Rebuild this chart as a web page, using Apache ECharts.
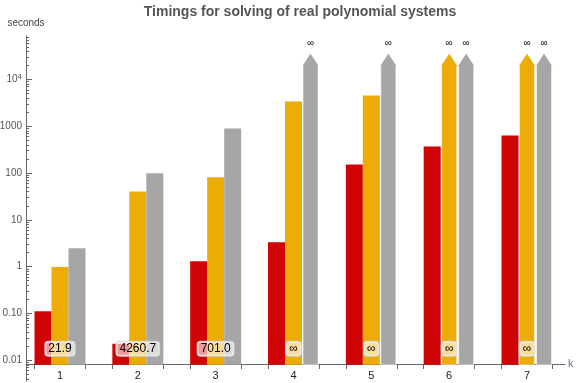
<!DOCTYPE html>
<html>
<head>
<meta charset="utf-8">
<script src="https://cdn.jsdelivr.net/npm/echarts@6/dist/echarts.min.js"></script>
<style>html,body{margin:0;padding:0;background:#fff}#c{width:576px;height:383px}</style>
</head>
<body>
<div id="c"></div>
<script>
// ---- data ----
const categories = [1, 2, 3, 4, 5, 6, 7];
const seriesRed    = [0.112, 0.0225, 1.31, 3.33, 153, 372, 638];
const seriesOrange = [0.98, 40.6, 81, 3400, 4570, Infinity, Infinity];
const seriesGray   = [2.46, 98.6, 900, Infinity, Infinity, Infinity, Infinity];
const boxLabels    = ['21.9', '4260.7', '701.0', '∞', '∞', '∞', '∞'];
const yTickValues  = [0.01, 0.1, 1, 10, 100, 1000, 10000];
const yTickLabels  = ['0.01', '0.10', '1', '10', '100', '1000', '10{sup|4}'];
const xTickLabels  = ['1', '2', '3', '4', '5', '6', '7'];

// ---- drawing constants ----
const BASE = 0.008;       // where the horizontal axis crosses
const ARROW_TIP = 36500;  // drawing height for infinite values
const LABEL_Y = 0.0175;   // vertical placement of boxed labels
const FONT = 'Liberation Sans, Arial, sans-serif';

const minorTicks = [];
for (let e = -3; e <= 4; e++) {
  for (let m = 2; m <= 9; m++) {
    const v = m * Math.pow(10, e);
    if (v > 0.0036 && v < 85000) minorTicks.push(v);
  }
}
const xEdgeTicks = [];
categories.forEach(k => { xEdgeTicks.push(k - 0.3276, k + 0.3276); });

function barSeries(vals, color, slot, shaftW) {
  return {
    type: 'custom',
    xAxisIndex: 0, yAxisIndex: 0,
    data: categories.map((k, i) => [k, isFinite(vals[i]) ? vals[i] : ARROW_TIP]),
    renderItem: function (params, api) {
      const i = params.dataIndex;
      const top = api.coord([api.value(0), api.value(1)]);
      const base = api.coord([api.value(0), BASE]);
      const bw = 17;
      const cx = top[0] + slot * bw;
      if (isFinite(vals[i])) {
        return {
          type: 'rect',
          shape: { x: cx - bw / 2, y: top[1], width: bw, height: base[1] - top[1] },
          style: { fill: color }
        };
      }
      const tip = top[1];
      const st = tip + 13;
      const hw = 8.5, sw = shaftW / 2;
      return {
        type: 'group',
        children: [
          {
            type: 'polygon',
            shape: { points: [[cx - sw, base[1]], [cx - sw, st], [cx - hw, st], [cx, tip], [cx + hw, st], [cx + sw, st], [cx + sw, base[1]]] },
            style: { fill: color, stroke: 'rgba(255,255,255,0.55)', lineWidth: 1 }
          },
          {
            type: 'text',
            style: { text: '∞', x: cx, y: tip - 10, align: 'center', verticalAlign: 'middle', fontSize: 10, fill: '#111', fontFamily: FONT }
          }
        ]
      };
    },
    z: 2
  };
}

const chart = echarts.init(document.getElementById('c'), null, { renderer: 'canvas' });
chart.setOption({
  animation: false,
  backgroundColor: '#fff',
  title: {
    text: 'Timings for solving of real polynomial systems',
    left: 295, top: 0, textAlign: 'center',
    textStyle: { fontSize: 14, fontWeight: 'bold', color: '#555', fontFamily: FONT }
  },
  grid: { left: 26, right: 11, top: 36, bottom: 2, containLabel: false, outerBoundsMode: 'none' },
  xAxis: {
    type: 'value', min: 0.5632, max: 7.488, position: 'bottom', offset: -17,
    splitLine: { show: false },
    axisLine: { show: true, lineStyle: { color: '#666', width: 1 } },
    axisTick: { show: true, length: 5, customValues: xEdgeTicks, lineStyle: { color: '#666' } },
    axisLabel: {
      customValues: categories, margin: 6, fontSize: 11, color: '#222', fontFamily: FONT,
      formatter: v => xTickLabels[categories.indexOf(Math.round(v))]
    },
    name: 'k', nameLocation: 'end', nameGap: 3,
    nameTextStyle: { fontSize: 11, color: '#6a7590', fontFamily: FONT }
  },
  yAxis: [
    {
      type: 'log', min: 0.0036, max: 85000, position: 'left',
      splitLine: { show: false },
      axisLine: { show: true, lineStyle: { color: '#666', width: 1 } },
      axisTick: { show: true, inside: true, length: 6, customValues: yTickValues, lineStyle: { color: '#666' } },
      axisLabel: {
        customValues: yTickValues, margin: 4, fontSize: 10, color: '#555', fontFamily: FONT,
        formatter: function (v) {
          let best = 0, bd = 1e9;
          yTickValues.forEach((t, j) => { const d = Math.abs(Math.log10(t) - Math.log10(v)); if (d < bd) { bd = d; best = j; } });
          return yTickLabels[best];
        },
        rich: { sup: { fontSize: 8, verticalAlign: 'top', padding: [0, 0, 6, 0], color: '#555', fontFamily: FONT } }
      },
      name: 'seconds', nameLocation: 'end', nameGap: 8,
      nameTextStyle: { fontSize: 10, color: '#444', fontFamily: FONT }
    },
    {
      type: 'log', min: 0.0036, max: 85000, position: 'left', offset: 0,
      splitLine: { show: false },
      axisLine: { show: false },
      axisTick: { show: true, inside: true, length: 3, customValues: minorTicks, lineStyle: { color: '#666' } },
      axisLabel: { show: false }
    }
  ],
  series: [
    barSeries(seriesRed, '#CF0404', -1, 17),
    barSeries(seriesOrange, '#ECAB05', 0, 15),
    barSeries(seriesGray, '#A6A6A6', 1, 15),
    {
      type: 'custom',
      xAxisIndex: 0, yAxisIndex: 0,
      data: categories.map(k => [k, LABEL_Y]),
      renderItem: function (params, api) {
        const p = api.coord([api.value(0), api.value(1)]);
        return {
          type: 'text',
          style: {
            text: boxLabels[params.dataIndex], x: p[0], y: p[1], align: 'center', verticalAlign: 'middle',
            fontSize: 12, fill: '#000', fontFamily: FONT,
            backgroundColor: 'rgba(255,255,255,0.6)', borderColor: 'rgba(215,215,215,0.9)', borderWidth: 1,
            borderRadius: 3, padding: [1, 3]
          }
        };
      },
      z: 5
    }
  ]
});
</script>
</body>
</html>
